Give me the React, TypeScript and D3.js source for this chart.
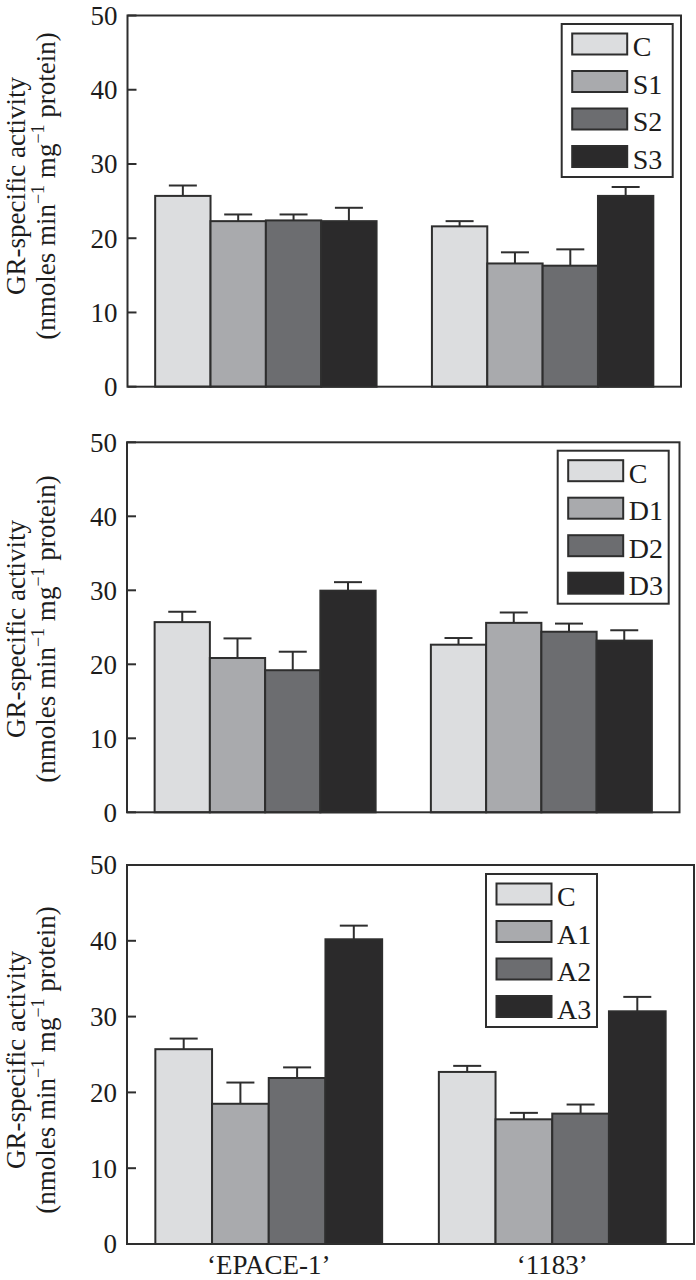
import React from "react";
import * as d3 from "d3";

const cultivars = ["‘EPACE-1’", "‘1183’"];
const yTicks = [0, 10, 20, 30, 40, 50];
const fills = ["#dcdddf", "#a9aaad", "#6c6d70", "#2b2a2b"];

const seriesNames1 = ["C", "S1", "S2", "S3"];
const means1 = [
  [25.7, 22.3, 22.4, 22.3],
  [21.6, 16.6, 16.3, 25.7],
];
const tops1 = [
  [27.1, 23.2, 23.2, 24.1],
  [22.3, 18.1, 18.5, 26.9],
];

const seriesNames2 = ["C", "D1", "D2", "D3"];
const means2 = [
  [25.7, 20.85, 19.2, 29.95],
  [22.65, 25.6, 24.4, 23.2],
];
const tops2 = [
  [27.1, 23.5, 21.7, 31.1],
  [23.55, 27.0, 25.5, 24.6],
];

const seriesNames3 = ["C", "A1", "A2", "A3"];
const means3 = [
  [25.7, 18.5, 21.9, 40.2],
  [22.7, 16.45, 17.2, 30.7],
];
const tops3 = [
  [27.1, 21.3, 23.3, 42.0],
  [23.5, 17.3, 18.4, 32.6],
];

const FONT = "'Liberation Serif', 'Times New Roman', Times, serif";
const INK = "#2e2e2e";
const TXT = "#1c1c1c";

type PanelProps = {
  left: number;
  right: number;
  top: number;
  bottom: number;
  names: string[];
  means: number[][];
  tops: number[][];
  legendX: number;
  legendY: number;
  labelY: number;
  showX: boolean;
};

function Panel(p: PanelProps) {
  const x0 = d3
    .scaleBand<string>()
    .domain(cultivars)
    .range([p.left, p.right])
    .paddingInner(0.2)
    .paddingOuter(0.1);
  const x1 = d3
    .scaleBand<string>()
    .domain(p.names)
    .range([0, x0.bandwidth()])
    .padding(0);
  const y = d3.scaleLinear().domain([0, 50]).range([p.bottom, p.top]);
  const capW = 28;
  const sw = 55;
  const sh = 21;
  const rowH = 37.5;
  const boxW = 111;
  const boxH = 153;
  return (
    <g>
      {cultivars.map((c, gi) => (
        <g key={c}>
          {p.names.map((n, si) => {
            const bx = (x0(c) as number) + (x1(n) as number);
            const bw = x1.bandwidth();
            const cx = bx + bw / 2;
            return (
              <g key={n}>
                <line
                  x1={cx}
                  x2={cx}
                  y1={y(p.means[gi][si])}
                  y2={y(p.tops[gi][si])}
                  stroke={INK}
                  strokeWidth={2}
                />
                <line
                  x1={cx - capW / 2}
                  x2={cx + capW / 2}
                  y1={y(p.tops[gi][si])}
                  y2={y(p.tops[gi][si])}
                  stroke={INK}
                  strokeWidth={2}
                />
                <rect
                  x={bx}
                  y={y(p.means[gi][si])}
                  width={bw}
                  height={y(0) - y(p.means[gi][si])}
                  fill={fills[si]}
                  stroke={INK}
                  strokeWidth={2}
                />
              </g>
            );
          })}
        </g>
      ))}
      <rect
        x={p.left}
        y={p.top}
        width={p.right - p.left}
        height={p.bottom - p.top}
        fill="none"
        stroke={INK}
        strokeWidth={2}
      />
      {yTicks.map((t) => (
        <g key={t}>
          <line
            x1={p.left}
            x2={p.left + 9}
            y1={y(t)}
            y2={y(t)}
            stroke={INK}
            strokeWidth={2}
          />
          <text
            x={p.left - 10}
            y={y(t)}
            dy="0.35em"
            textAnchor="end"
            fontSize={27}
            fontFamily={FONT}
            fill={TXT}
          >
            {t}
          </text>
        </g>
      ))}
      <g
        fontFamily={FONT}
        fill={TXT}
        textAnchor="middle"
        transform={`translate(0,${p.labelY}) rotate(-90)`}
      >
        <text x={0} y={25} fontSize={27}>
          GR-specific activity
        </text>
        <text x={0} y={55} fontSize={27}>
          (nmoles min
          <tspan fontSize={18} dy={-11}>
            −1
          </tspan>
          <tspan dy={11}> mg</tspan>
          <tspan fontSize={18} dy={-11}>
            −1
          </tspan>
          <tspan dy={11}> protein)</tspan>
        </text>
      </g>
      <rect
        x={p.legendX}
        y={p.legendY}
        width={boxW}
        height={boxH}
        fill="#fff"
        stroke={INK}
        strokeWidth={2}
      />
      {p.names.map((n, i) => (
        <g key={n}>
          <rect
            x={p.legendX + 10.5}
            y={p.legendY + 9.5 + i * rowH}
            width={sw}
            height={sh}
            fill={fills[i]}
            stroke={INK}
            strokeWidth={2}
          />
          <text
            x={p.legendX + 71}
            y={p.legendY + 9.5 + i * rowH + sh}
            dy={1.5}
            fontSize={28}
            fontFamily={FONT}
            fill={TXT}
          >
            {n}
          </text>
        </g>
      ))}
      {p.showX &&
        cultivars.map((c) => (
          <text
            key={c}
            x={(x0(c) as number) + x0.bandwidth() / 2}
            y={p.bottom + 30}
            textAnchor="middle"
            fontSize={27}
            fontFamily={FONT}
            fill={TXT}
          >
            {c}
          </text>
        ))}
    </g>
  );
}

export default function App() {
  return (
    <svg
      width={696}
      height={1280}
      style={{ position: "absolute", left: 0, top: 0, background: "#fff" }}
    >
      <rect width={696} height={1280} fill="#fff" />
      <Panel
        left={127.5}
        right={681}
        top={15.5}
        bottom={386.7}
        names={seriesNames1}
        means={means1}
        tops={tops1}
        legendX={561.7}
        legendY={24}
        labelY={186}
        showX={false}
      />
      <Panel
        left={127}
        right={679.5}
        top={442.3}
        bottom={812.3}
        names={seriesNames2}
        means={means2}
        tops={tops2}
        legendX={557.7}
        legendY={450.7}
        labelY={629}
        showX={false}
      />
      <Panel
        left={127}
        right={694}
        top={865}
        bottom={1244}
        names={seriesNames3}
        means={means3}
        tops={tops3}
        legendX={486}
        legendY={874}
        labelY={1060}
        showX={true}
      />
    </svg>
  );
}
